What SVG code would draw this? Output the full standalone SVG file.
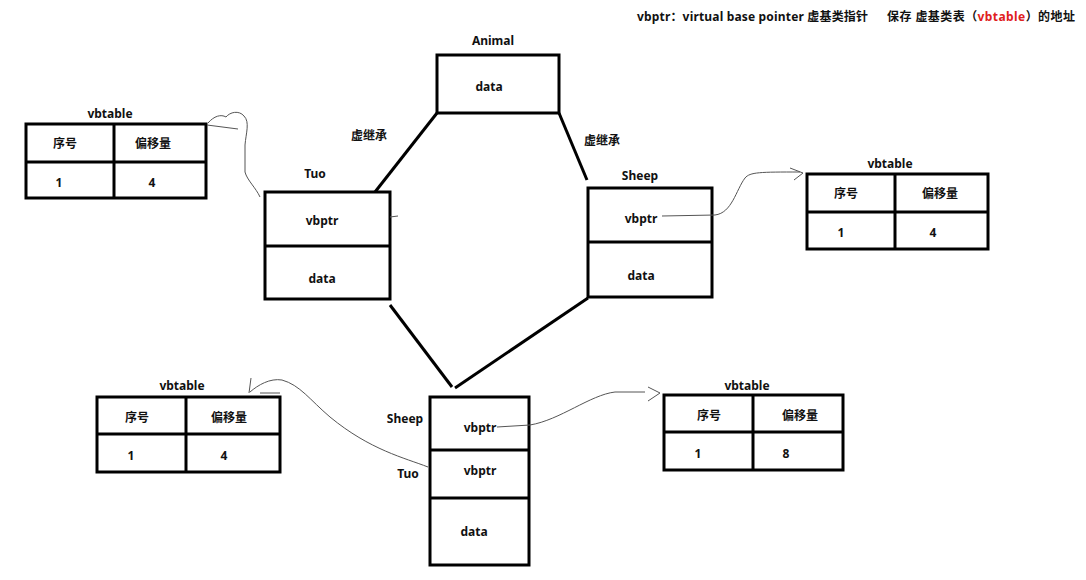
<svg xmlns="http://www.w3.org/2000/svg" width="1086" height="580" viewBox="0 0 1086 580">
<style>
text{font-family:"Noto Sans","Noto Sans CJK SC",sans-serif;font-weight:bold;font-size:12px;fill:#111;text-anchor:middle;dominant-baseline:central}
.box{fill:#fff;stroke:#000;stroke-width:3}
.ln{stroke:#000;stroke-width:3;fill:none}
.thin{stroke:#555;stroke-width:1;fill:none}
.red{fill:#e02020}
.l{text-anchor:start}
</style>
<rect width="1086" height="580" fill="#fff"/>
<text class="l" x="637" y="16" textLength="231" lengthAdjust="spacing">vbptr：virtual base pointer 虚基类指针</text>
<text class="l" x="887" y="16" textLength="188" lengthAdjust="spacing">保存 虚基类表（<tspan class="red">vbtable</tspan>）的地址</text>

<g id="animal">
<text x="493" y="40">Animal</text>
<rect class="box" x="437" y="55" width="122" height="58"/>
<text x="489" y="86">data</text>
</g>

<g id="tuo">
<text x="315" y="173">Tuo</text>
<rect class="box" x="265" y="192" width="125" height="107"/>
<line class="ln" x1="265" y1="246" x2="390" y2="246"/>
<text x="322" y="220">vbptr</text>
<text x="322" y="278">data</text>
</g>

<g id="sheep">
<text x="640" y="175">Sheep</text>
<rect class="box" x="588" y="188" width="124" height="109"/>
<line class="ln" x1="588" y1="242" x2="712" y2="242"/>
<text x="641" y="218">vbptr</text>
<text x="641" y="275">data</text>
</g>

<g id="derived">
<rect class="box" x="430" y="397" width="99" height="168"/>
<line class="ln" x1="430" y1="450" x2="529" y2="450"/>
<line class="ln" x1="430" y1="498" x2="529" y2="498"/>
<text x="405" y="418">Sheep</text>
<text x="408" y="473">Tuo</text>
<text x="480" y="427">vbptr</text>
<text x="480" y="470">vbptr</text>
<text x="474" y="531">data</text>
</g>

<g id="vbtable-tuo">
<text x="110" y="113">vbtable</text>
<rect class="box" x="26" y="124" width="180" height="74"/>
<line class="ln" x1="26" y1="162" x2="206" y2="162"/>
<line class="ln" x1="114" y1="124" x2="114" y2="198"/>
<text x="65" y="143">序号</text>
<text x="153" y="143">偏移量</text>
<text x="59" y="182">1</text>
<text x="152" y="182">4</text>
</g>

<g id="vbtable-sheep">
<text x="890" y="163">vbtable</text>
<rect class="box" x="807" y="174" width="181" height="75"/>
<line class="ln" x1="807" y1="212" x2="988" y2="212"/>
<line class="ln" x1="895" y1="174" x2="895" y2="249"/>
<text x="846" y="193">序号</text>
<text x="940" y="193">偏移量</text>
<text x="841" y="232">1</text>
<text x="933" y="232">4</text>
</g>

<g id="vbtable-left">
<text x="182" y="385">vbtable</text>
<rect class="box" x="97" y="397" width="183" height="75"/>
<line class="ln" x1="97" y1="434" x2="280" y2="434"/>
<line class="ln" x1="186" y1="397" x2="186" y2="472"/>
<text x="137" y="417">序号</text>
<text x="229" y="417">偏移量</text>
<text x="131" y="455">1</text>
<text x="224" y="455">4</text>
</g>

<g id="vbtable-right">
<text x="747" y="385">vbtable</text>
<rect class="box" x="664" y="395" width="179" height="75"/>
<line class="ln" x1="664" y1="432" x2="843" y2="432"/>
<line class="ln" x1="753" y1="395" x2="753" y2="470"/>
<text x="709" y="415">序号</text>
<text x="800" y="415">偏移量</text>
<text x="698" y="453">1</text>
<text x="786" y="453">8</text>
</g>

<g id="connectors">
<line class="ln" x1="437" y1="113" x2="375" y2="192"/>
<line class="ln" x1="559" y1="113" x2="587" y2="180"/>
<line class="ln" x1="390" y1="305" x2="452" y2="387"/>
<line class="ln" x1="588" y1="298" x2="455" y2="388"/>
<text x="369" y="135">虚继承</text>
<text x="602" y="140">虚继承</text>
<path class="thin" d="M390,217 L398,216"/>
<path class="thin" d="M260,197 C256,188 247,180 245,172 L245,145 C246,133 250,122 244,116 C239,110 230,112 226,117 C221,114 214,116 208,123"/>
<path class="thin" d="M207,125 L238,129"/>
<path class="thin" d="M662,216 L715,215 C732,213 736,190 745,178 C750,172 760,172 800,172"/>
<path class="thin" d="M790,168 L803,173 L794,180"/>
<path class="thin" d="M428,467 C405,458 370,450 330,417 C310,400 300,385 282,380 C270,378 258,385 250,392"/>
<path class="thin" d="M251,378 L249,393 M260,393 L280,393"/>
<path class="thin" d="M497,427 L530,425 C560,420 590,395 615,392 L645,392"/>
<path class="thin" d="M648,387 L660,393 L648,401"/>
</g>
</svg>
